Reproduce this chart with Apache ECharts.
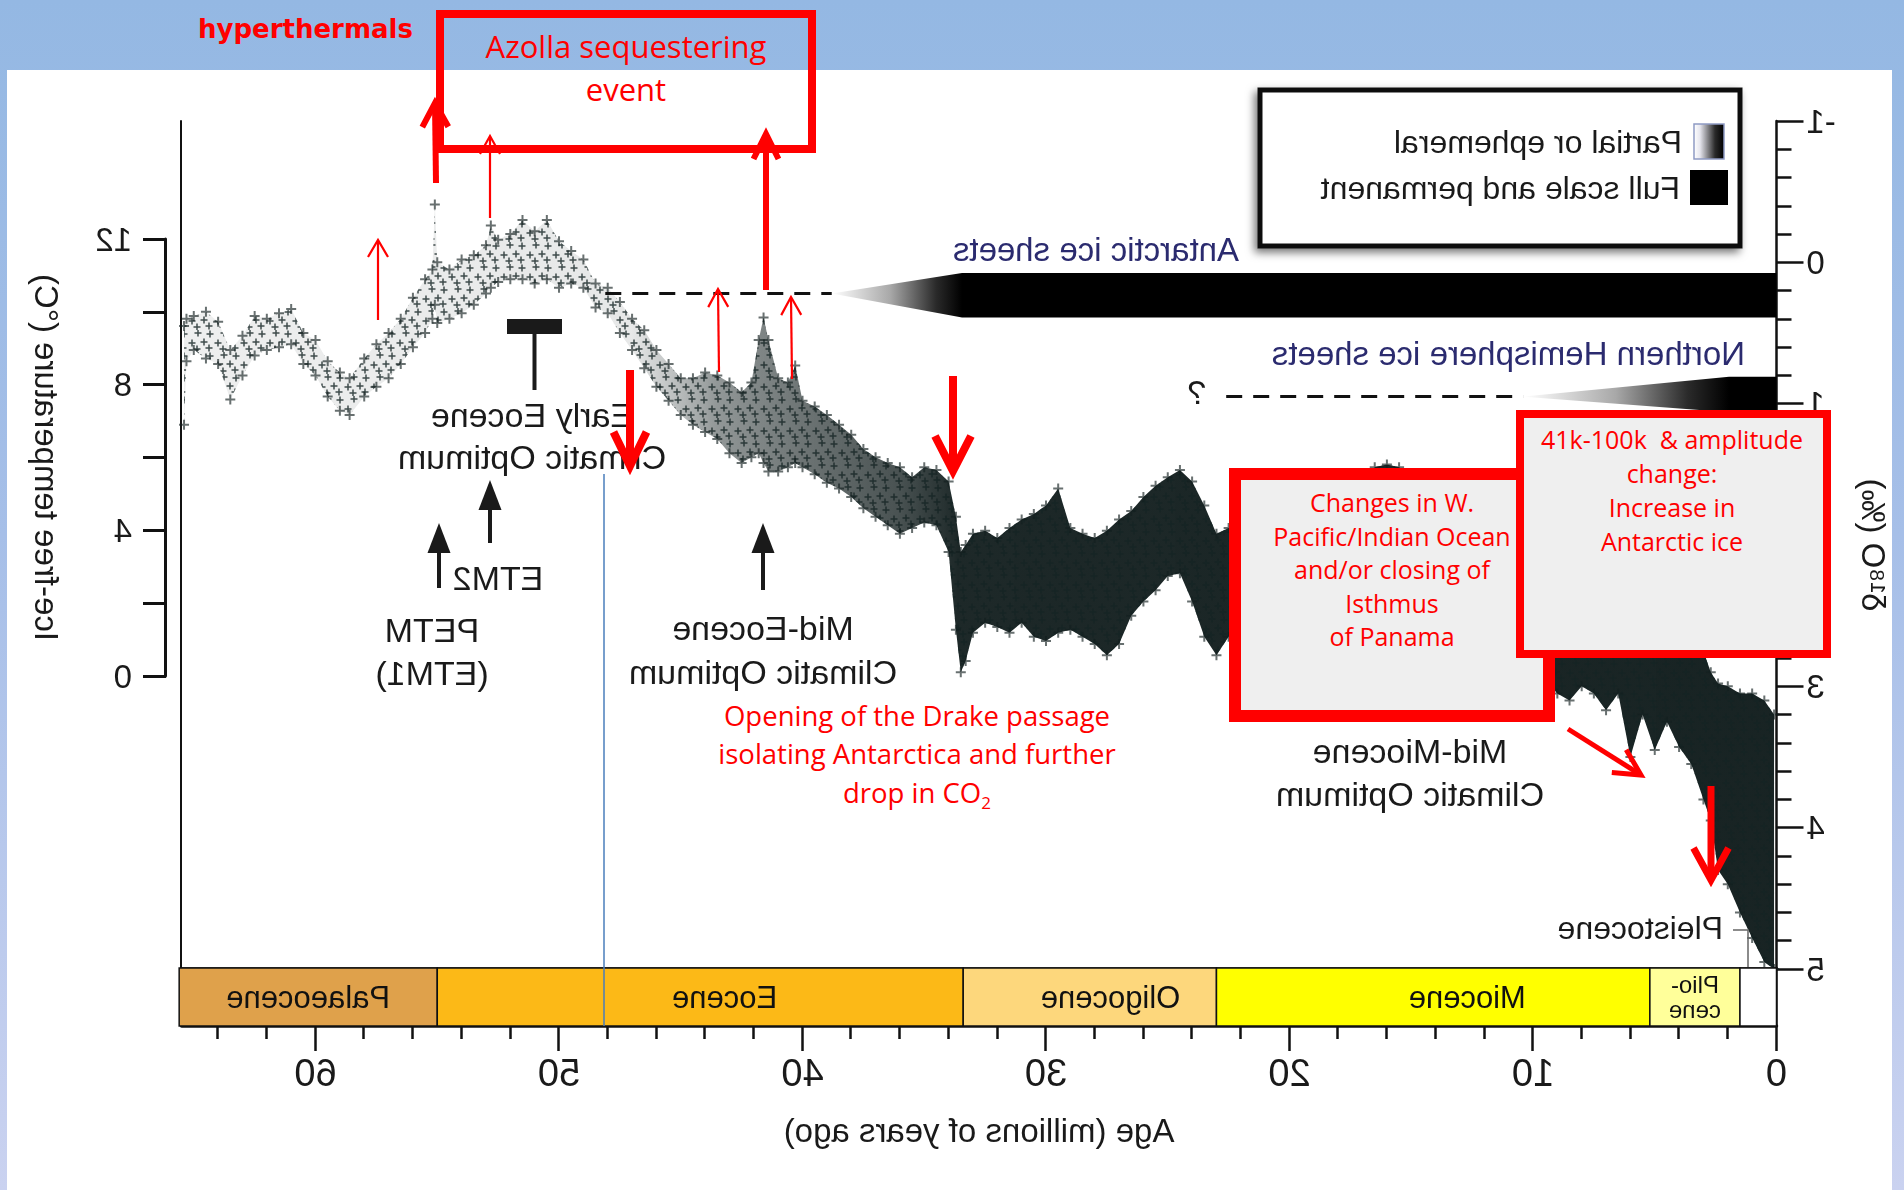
<!DOCTYPE html>
<html>
<head>
<meta charset="utf-8">
<title>Cenozoic deep-sea climate record</title>
<script src="https://cdn.jsdelivr.net/npm/echarts@6/dist/echarts.min.js"></script>
<style>
  html, body { margin:0; padding:0; width:1904px; height:1190px; overflow:hidden; }
  body { position:relative; background: linear-gradient(180deg, #94b8e3 0%, #a6bfe8 45%, #cad2f0 100%); }
  #panel { position:absolute; left:7px; top:70px; width:1885px; height:1120px; background:#ffffff; }
  #base { position:absolute; left:0; top:0; width:1904px; height:1190px; transform:scaleX(-1); }
  #over { position:absolute; left:0; top:0; width:1904px; height:1190px; }
</style>
</head>
<body>
<div id="panel"></div>
<div id="base"></div>
<div id="over"></div>
<script>
// ---------------- DATA ----------------
const ageMa = [65.4,65.3,65.0,64.5,64.0,63.5,63.0,62.5,62.0,61.5,61.0,60.5,60.0,59.5,59.0,58.6,58.0,57.5,57.0,56.5,56.0,55.5,55.2,55.1,55.0,54.5,54.0,53.5,53.0,52.8,52.5,52.0,51.5,51.0,50.5,50.0,49.5,49.0,48.5,48.0,47.5,47.0,46.5,46.0,45.5,45.0,44.5,44.0,43.5,43.0,42.5,42.1,41.8,41.6,41.4,41.0,40.6,40.3,40.0,39.5,39.0,38.5,38.0,37.5,37.0,36.5,36.0,35.5,35.0,34.5,34.0,33.7,33.5,33.3,33.0,32.5,32.0,31.5,31.0,30.5,30.0,29.5,29.0,28.5,28.0,27.5,27.0,26.5,26.0,25.5,25.0,24.5,24.0,23.5,23.0,22.5,22.0,21.0,20.0,19.0,18.0,17.0,16.5,16.0,15.5,15.0,14.5,14.0,13.5,13.0,12.0,11.0,10.0,9.5,9.0,8.5,8.0,7.5,7.0,6.5,6.0,5.5,5.0,4.5,4.0,3.5,3.0,2.7,2.4,2.0,1.5,1.0,0.5,0.1];
// upper (lighter) edge of the benthic delta-18O cloud, per mil
const d18oTop = [0.45,0.40,0.38,0.35,0.42,0.62,0.52,0.38,0.40,0.36,0.33,0.50,0.55,0.70,0.78,0.82,0.68,0.58,0.50,0.40,0.25,0.12,0.05,-0.41,0.00,0.05,-0.02,-0.05,-0.12,-0.26,-0.16,-0.20,-0.30,-0.22,-0.30,-0.15,-0.08,-0.02,0.15,0.18,0.28,0.40,0.48,0.62,0.72,0.82,0.82,0.78,0.80,0.85,0.92,0.85,0.55,0.39,0.55,0.82,0.85,0.73,0.98,1.02,1.08,1.15,1.22,1.32,1.38,1.42,1.45,1.52,1.45,1.47,1.55,1.80,2.05,2.00,1.92,1.90,1.95,1.88,1.82,1.78,1.72,1.60,1.88,1.92,1.95,1.90,1.82,1.76,1.66,1.58,1.52,1.47,1.55,1.72,1.92,1.88,1.82,1.75,1.70,1.72,1.68,1.55,1.45,1.43,1.45,1.50,1.56,1.75,2.00,2.15,2.20,2.25,2.30,2.35,2.40,2.45,2.45,2.50,2.50,2.55,2.60,2.55,2.60,2.55,2.60,2.70,2.75,2.90,2.98,3.00,3.05,3.05,3.10,3.20];
// lower (heavier) edge of the cloud, per mil
const d18oBottom = [1.15,0.70,0.62,0.68,0.72,0.97,0.80,0.66,0.62,0.60,0.58,0.72,0.80,0.95,1.05,1.08,0.95,0.88,0.82,0.72,0.60,0.50,0.40,0.30,0.43,0.40,0.36,0.30,0.22,0.18,0.14,0.12,0.12,0.15,0.12,0.18,0.15,0.18,0.32,0.36,0.50,0.62,0.75,0.88,0.98,1.08,1.15,1.20,1.25,1.35,1.42,1.38,1.35,1.42,1.48,1.48,1.45,1.42,1.45,1.50,1.56,1.60,1.66,1.74,1.80,1.86,1.92,1.88,1.84,1.86,2.05,2.60,2.90,2.82,2.62,2.55,2.58,2.62,2.55,2.65,2.68,2.62,2.60,2.65,2.70,2.78,2.70,2.50,2.40,2.32,2.22,2.20,2.40,2.65,2.78,2.65,2.55,2.50,2.45,2.40,2.35,2.25,2.12,2.05,2.08,2.15,2.25,2.45,2.65,2.75,2.78,2.80,2.85,2.95,3.05,3.10,3.00,3.05,3.17,3.05,3.50,3.20,3.45,3.25,3.43,3.55,3.80,3.95,4.30,4.40,4.60,4.78,4.95,5.00];

const epochNames = ['Palaeocene','Eocene','Oligocene','Miocene','Plio-\ncene',''];
const epochStart = [65.6, 55.0, 33.4, 23.0, 5.2, 1.5];
const epochEnd   = [55.0, 33.4, 23.0, 5.2, 1.5, 0.0];

const ageMajorTicks = [0,10,20,30,40,50,60];
const ageMinorTicks = [2,4,6,8,12,14,16,18,22,24,26,28,32,34,36,38,42,44,46,48,52,54,56,58,62,64];

const iceNames     = ['Antarctic ice sheets','Northern Hemisphere ice sheets'];
const iceDashStart = [48.1, 22.6];   // "?" / dashed (uncertain) ice
const iceOnset     = [38.8, 10.4];   // partial or ephemeral begins
const iceFull      = [33.45, 1.95];  // full scale and permanent
const legendLabels = ['Partial or ephemeral','Full scale and permanent'];

// ---------------- STYLE / LAYOUT ----------------
const FONT = '"Liberation Sans", Arial, sans-serif';
const INK = '#1a1a1a';
const EPOCH_COLORS = ['#dfa14b','#fcb917','#fdd77c','#ffff00','#ffff9a','#ffffff'];
const EPOCH_LABEL_SHIFT = [0, 1.0, 0.85, 1.4, 0, 0];   // label nudge toward the young end (Myr)
const ICE_ROWS = [{c:0.22, t:0.075, b:0.39}, {c:0.95, t:0.81, b:1.06}];
const ICE_COLOR = '#2b2b6f';
const PLUS = 'path://M4 0h2v4h4v2h-4v4h-2v-4h-4v-2h4z';
const cloudAlpha = [[65.5,0.07],[47,0.1],[43.5,0.45],[40,0.6],[36,0.75],[33.6,0.93],[0,0.95]];
const CLOUD_STOPS = cloudAlpha.map(a => ({offset:(65.5 - a[0]) / 65.5, color:'rgba(12,24,24,' + a[1] + ')'}));
const L = 127.5, R = 181.6;

// texture tile of small "+" marks (pure styling of the cloud fill)
const tile = document.createElement('canvas');
tile.width = 26; tile.height = 22;
(function () {
  const c = tile.getContext('2d');
  c.strokeStyle = 'rgba(20,36,36,0.8)';
  c.lineWidth = 1.5;
  [[4,4],[16,3],[10,12],[22,13],[5,18],[17,19]].forEach(function (p) {
    c.beginPath();
    c.moveTo(p[0] - 3.5, p[1]); c.lineTo(p[0] + 3.5, p[1]);
    c.moveTo(p[0], p[1] - 3.5); c.lineTo(p[0], p[1] + 3.5);
    c.stroke();
  });
})();

function T(x, y, text, o) {
  o = o || {};
  return {type:'text', x:x, y:y, z:30, silent:true,
    style:{text:text, font:(o.size || 34) + 'px ' + (o.family || FONT), fill:o.color || INK,
      align:o.align || 'center', textAlign:o.align || 'center',
      verticalAlign:'middle', textVerticalAlign:'middle',
      lineHeight:o.lh || undefined}};
}
function blackArrow(x, yTip, yTail) {
  return [
    {type:'line', z:30, shape:{x1:x, y1:yTip + 25, x2:x, y2:yTail}, style:{stroke:INK, lineWidth:4}},
    {type:'polygon', z:30, shape:{points:[[x - 11.5, yTip + 30],[x, yTip],[x + 11.5, yTip + 30]]}, style:{fill:INK}}
  ];
}

// ---------------- BASE FIGURE (drawn unmirrored, shown mirrored) ----------------
const base = echarts.init(document.getElementById('base'), null, {renderer:'svg', width:1904, height:1190});
const tickStyle = {color:'#111', width:2.5};
const nameStyle = {fontSize:33, fontFamily:FONT, color:INK};

const baseOption = {
  animation:false,
  grid:[
    {left:L, right:R, top:121, height:848, containLabel:false, outerBoundsMode:'none'},
    {left:L, right:R, top:968, height:58, containLabel:false, outerBoundsMode:'none'},
    {left:L, right:R, top:239, height:437, containLabel:false, outerBoundsMode:'none'}
  ],
  xAxis:[
    {gridIndex:0, type:'value', min:0, max:65.5, position:'bottom',
      axisLine:{show:true, onZero:false, lineStyle:{color:'#111', width:3.5}},
      axisTick:{show:false}, axisLabel:{show:false}, splitLine:{show:false}},
    {gridIndex:1, type:'value', min:0, max:65.5, position:'bottom',
      axisLine:{show:true, onZero:false, lineStyle:{color:'#111', width:3.5}},
      axisTick:{show:true, length:25, customValues:ageMajorTicks, lineStyle:tickStyle},
      axisLabel:{show:true, customValues:ageMajorTicks, margin:28, fontSize:38, fontFamily:FONT, color:INK},
      splitLine:{show:false},
      name:'Age (millions of years ago)', nameLocation:'middle', nameGap:88, nameMoveOverlap:false,
      nameTextStyle:nameStyle},
    {gridIndex:1, type:'value', min:0, max:65.5, position:'bottom',
      axisLine:{show:false, onZero:false},
      axisTick:{show:true, length:13, customValues:ageMinorTicks, lineStyle:tickStyle},
      axisLabel:{show:false}, splitLine:{show:false}},
    {gridIndex:2, type:'value', min:0, max:65.5, show:false}
  ],
  yAxis:[
    {gridIndex:0, type:'value', inverse:true, min:-1, max:5, interval:1, position:'left',
      axisLine:{show:true, onZero:false, lineStyle:tickStyle},
      axisTick:{show:true, length:27, lineStyle:tickStyle},
      minorTick:{show:true, splitNumber:5, length:15, lineStyle:tickStyle},
      axisLabel:{show:true, margin:30, fontSize:33, fontFamily:FONT, color:INK},
      splitLine:{show:false}, minorSplitLine:{show:false},
      name:'δ¹⁸O (‰)', nameLocation:'middle', nameGap:80, nameRotate:90, nameMoveOverlap:false,
      nameTextStyle:nameStyle},
    {gridIndex:0, type:'value', inverse:true, min:-1, max:5, position:'right',
      axisLine:{show:true, onZero:false, lineStyle:{color:'#111', width:2}},
      axisTick:{show:false}, axisLabel:{show:false}, splitLine:{show:false}},
    {gridIndex:1, type:'value', min:0, max:1, position:'left',
      axisLine:{show:true, onZero:false, lineStyle:tickStyle},
      axisTick:{show:false}, axisLabel:{show:false}, splitLine:{show:false}},
    {gridIndex:2, type:'value', min:0, max:12, interval:4, position:'right', offset:15.6,
      axisLine:{show:true, onZero:false, lineStyle:{color:'#111', width:3}},
      axisTick:{show:true, length:23, lineStyle:{color:'#111', width:3}},
      minorTick:{show:true, splitNumber:2, length:23, lineStyle:{color:'#111', width:3}},
      axisLabel:{show:true, margin:34, fontSize:33, fontFamily:FONT, color:INK},
      splitLine:{show:false}, minorSplitLine:{show:false},
      name:'Ice-free temperature (°C)', nameLocation:'middle', nameGap:103, nameRotate:90, nameMoveOverlap:false,
      nameTextStyle:{fontSize:33, fontFamily:FONT, color:INK}}
  ],
  series:[
    {type:'custom', name:'cloud', xAxisIndex:0, yAxisIndex:0, silent:true, z:2, data:[[0]],
      renderItem:function (params, api) {
        const pts = [];
        for (let i = 0; i < ageMa.length; i++) pts.push(api.coord([ageMa[i], d18oTop[i]]));
        for (let i = ageMa.length - 1; i >= 0; i--) pts.push(api.coord([ageMa[i], d18oBottom[i]]));
        const x0 = api.coord([65.5, 0])[0], x1 = api.coord([0, 0])[0];
        return {type:'group', children:[
          {type:'polygon', shape:{points:pts},
            style:{fill:new echarts.graphic.LinearGradient(x0, 0, x1, 0, CLOUD_STOPS, true)}},
          {type:'polygon', shape:{points:pts},
            style:{fill:{image:tile, repeat:'repeat'}}}
        ]};
      }},
    {type:'scatter', name:'upper', xAxisIndex:0, yAxisIndex:0, silent:true, z:3,
      data:ageMa.map((a, i) => [a, d18oTop[i]]), symbol:PLUS, symbolSize:10,
      itemStyle:{color:'rgba(18,32,32,0.8)'}},
    {type:'scatter', name:'lower', xAxisIndex:0, yAxisIndex:0, silent:true, z:3,
      data:ageMa.map((a, i) => [a, d18oBottom[i]]), symbol:PLUS, symbolSize:10,
      itemStyle:{color:'rgba(18,32,32,0.8)'}},
    {type:'custom', name:'ice', xAxisIndex:0, yAxisIndex:0, silent:true, z:4,
      data:iceDashStart.map((d, i) => [d, iceOnset[i], iceFull[i]]),
      renderItem:function (params, api) {
        const row = ICE_ROWS[params.dataIndex];
        const pDash = api.coord([api.value(0), row.c]);
        const pTip = api.coord([api.value(1), row.c]);
        const pFT = api.coord([api.value(2), row.t]);
        const pFB = api.coord([api.value(2), row.b]);
        const pET = api.coord([0, row.t]);
        const pEB = api.coord([0, row.b]);
        return {type:'group', children:[
          {type:'line', shape:{x1:pDash[0], y1:pDash[1], x2:pTip[0], y2:pTip[1]},
            style:{stroke:'#111', lineWidth:3, lineDash:[16, 11]}},
          {type:'polygon', shape:{points:[pTip, pFT, pET, pEB, pFB]},
            style:{fill:new echarts.graphic.LinearGradient(pTip[0], 0, pFT[0], 0,
              [{offset:0, color:'#ffffff'}, {offset:0.45, color:'#a8a8a8'}, {offset:0.8, color:'#2a2a2a'}, {offset:1, color:'#000000'}], true)}}
        ]};
      }},
    {type:'custom', name:'epochs', xAxisIndex:1, yAxisIndex:2, silent:true, z:5,
      data:epochStart.map((s, i) => [s, epochEnd[i]]),
      renderItem:function (params, api) {
        const i = params.dataIndex;
        const s = api.value(0), e = api.value(1);
        const p0 = api.coord([s, 1]);
        const p1 = api.coord([e, 0]);
        const x = Math.min(p0[0], p1[0]), w = Math.abs(p1[0] - p0[0]);
        const lx = api.coord([(s + e) / 2 - EPOCH_LABEL_SHIFT[i], 0])[0];
        const small = epochNames[i].indexOf('\n') >= 0;
        return {type:'group', children:[
          {type:'rect', shape:{x:x, y:p0[1], width:w, height:p1[1] - p0[1]},
            style:{fill:EPOCH_COLORS[i], stroke:'#111', lineWidth:1.5}},
          {type:'text', x:lx, y:(p0[1] + p1[1]) / 2,
            style:{text:epochNames[i], font:(small ? 24 : 31) + 'px ' + FONT, fill:'#111',
              align:'center', textAlign:'center', verticalAlign:'middle', textVerticalAlign:'middle',
              lineHeight:small ? 25 : undefined}}
        ]};
      }}
  ],
  graphic:[].concat(
    [
      {type:'rect', z:20, shape:{x:164, y:90, width:480, height:156},
        style:{fill:'#ffffff', stroke:'#111', lineWidth:5, shadowBlur:8, shadowOffsetX:3, shadowOffsetY:4, shadowColor:'rgba(0,0,0,0.55)'}},
      {type:'rect', z:21, shape:{x:180, y:124, width:30, height:35},
        style:{fill:new echarts.graphic.LinearGradient(0, 0, 1, 0,
          [{offset:0, color:'#000'}, {offset:0.3, color:'#2a2a2a'}, {offset:0.8, color:'#e6e6ee'}, {offset:1, color:'#ffffff'}]),
          stroke:'#8e9ac4', lineWidth:1.5}},
      {type:'rect', z:21, shape:{x:176, y:170, width:38, height:35}, style:{fill:'#000'}},
      T(222, 142, legendLabels[0], {size:32, align:'left'}),
      T(224, 188, legendLabels[1], {size:32, align:'left'}),
      T(665, 249, iceNames[0], {size:33, align:'left', color:ICE_COLOR}),
      T(159, 353, iceNames[1], {size:33, align:'left', color:ICE_COLOR}),
      T(707, 392, '?', {size:34}),
      {type:'rect', z:30, shape:{x:1342, y:319, width:55, height:15}, style:{fill:INK}},
      {type:'line', z:30, shape:{x1:1369.5, y1:334, x2:1369.5, y2:390}, style:{stroke:INK, lineWidth:4}},
      T(1372, 436, 'Early Eocene\nClimatic Optimum', {lh:42}),
      T(1406, 578, 'ETM2'),
      T(1472, 651, 'PETM\n(ETM1)', {lh:43}),
      T(1141, 650, 'Mid-Eocene\nClimatic Optimum', {lh:44}),
      T(494, 772, 'Mid-Miocene\nClimatic Optimum', {lh:43}),
      T(181, 928, 'Pleistocene', {size:32, align:'left'}),
      {type:'polyline', z:30, shape:{points:[[171, 930], [156, 930], [156, 967]]}, style:{stroke:'#666', lineWidth:1.5, fill:'none'}}
    ],
    blackArrow(1465, 523, 588),
    blackArrow(1414, 480, 543),
    blackArrow(1141, 523, 590)
  )
};
base.setOption(baseOption);

// ---------------- OVERLAY ANNOTATIONS (not mirrored) ----------------
const RED = '#ff0000';
const SANS = '"Open Sans", "Noto Sans", sans-serif';
function redArrow(x1, y1, x2, y2, lw, hl, hw) {
  const dx = x2 - x1, dy = y2 - y1, len = Math.hypot(dx, dy);
  const ux = dx / len, uy = dy / len, nx = -uy, ny = ux;
  const bx = x2 - ux * hl, by = y2 - uy * hl;
  return [
    {type:'line', z:50, shape:{x1:x1, y1:y1, x2:x2 - ux * lw * 0.6, y2:y2 - uy * lw * 0.6}, style:{stroke:RED, lineWidth:lw}},
    {type:'polyline', z:50, shape:{points:[[bx + nx * hw / 2, by + ny * hw / 2], [x2, y2], [bx - nx * hw / 2, by - ny * hw / 2]]},
      style:{stroke:RED, lineWidth:lw, fill:'none', lineJoin:'miter'}}
  ];
}
function RT(x, y, text, size, lh, o) {
  o = o || {};
  return {type:'text', x:x, y:y, z:60,
    style:{text:text, font:(o.weight || '') + ' ' + size + 'px ' + (o.family || SANS), fill:RED,
      align:o.align || 'center', textAlign:o.align || 'center',
      verticalAlign:'middle', textVerticalAlign:'middle', lineHeight:lh || undefined}};
}
const over = echarts.init(document.getElementById('over'), null, {renderer:'svg', width:1904, height:1190});
over.setOption({
  animation:false,
  graphic:[].concat(
    [
      {type:'line', z:40, shape:{x1:604, y1:474, x2:604, y2:1026}, style:{stroke:'#4a7ebb', lineWidth:1.5}},
      RT(198, 29, 'hyperthermals', 26, 0, {weight:'bold', align:'left', family:'"DejaVu Sans", sans-serif'}),
      {type:'rect', z:45, shape:{x:440, y:14, width:372, height:135}, style:{fill:'none', stroke:RED, lineWidth:8}},
      RT(626, 67.5, 'Azolla sequestering\nevent', 31, 43)
    ],
    redArrow(436, 183, 435, 103, 6, 24, 26),
    redArrow(490, 218, 490, 136, 2.2, 18, 20),
    redArrow(766, 290, 766, 134, 6, 25, 25),
    redArrow(378, 320, 378, 240, 2.2, 17, 20),
    redArrow(719, 372, 718, 289, 2.2, 18, 20),
    redArrow(792, 379, 791, 297, 2.2, 18, 20),
    redArrow(630, 370, 630, 466, 8, 34, 33),
    redArrow(953, 376, 953, 471, 8, 35, 36),
    redArrow(1568, 729, 1641, 775, 5, 26, 27),
    redArrow(1711, 786, 1711, 880, 7, 32, 35),
    [
      {type:'rect', z:55, shape:{x:1235, y:474, width:314, height:242}, style:{fill:'#efefef', stroke:RED, lineWidth:12}},
      RT(1392, 569, 'Changes in W.\nPacific/Indian Ocean\nand/or closing of\nIsthmus\nof Panama', 25, 33.5),
      {type:'rect', z:61, shape:{x:1520, y:414, width:307, height:240}, style:{fill:'#efefef', stroke:RED, lineWidth:8}},
      Object.assign(RT(1672, 490, '41k-100k  & amplitude\nchange:\nIncrease in\nAntarctic ice', 25, 34), {z:62}),
      RT(917, 715, 'Opening of the Drake passage', 27.5),
      RT(917, 753, 'isolating Antarctica and further', 27.5),
      {type:'text', x:917, y:792, z:60,
        style:{text:'{m|drop in CO}{s|2}', align:'center', textAlign:'center', verticalAlign:'middle', textVerticalAlign:'middle',
          rich:{m:{fontSize:27.5, fontFamily:SANS, fill:RED, color:RED, lineHeight:38},
                s:{fontSize:17, fontFamily:SANS, fill:RED, color:RED, lineHeight:38, verticalAlign:'bottom'}}}}
    ]
  )
});
</script>
</body>
</html>
